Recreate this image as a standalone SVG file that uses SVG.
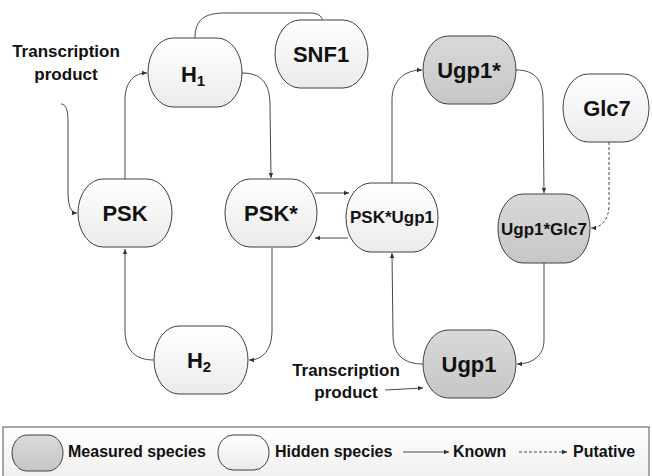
<svg xmlns="http://www.w3.org/2000/svg" width="652" height="476" viewBox="0 0 652 476">
<defs>
<linearGradient id="gHid" x1="0" y1="0" x2="0" y2="1"><stop offset="0" stop-color="#ffffff"/><stop offset="1" stop-color="#ebebeb"/></linearGradient>
<linearGradient id="gMeas" x1="0" y1="0" x2="0" y2="1"><stop offset="0" stop-color="#d9d9d9"/><stop offset="1" stop-color="#c6c6c6"/></linearGradient>
<linearGradient id="gBox" x1="0" y1="0" x2="0" y2="1"><stop offset="0" stop-color="#ffffff"/><stop offset="1" stop-color="#ededed"/></linearGradient>
<marker id="arr" markerUnits="userSpaceOnUse" markerWidth="6" markerHeight="6" refX="5" refY="3" orient="auto"><path d="M0,0.8 L5,3 L0,5.2 z" fill="#333"/></marker>
</defs>
<style>
.hid{fill:url(#gHid);stroke:#404040;stroke-width:1}
.meas{fill:url(#gMeas);stroke:#404040;stroke-width:1}
.lbl{font-family:"Liberation Sans",Arial,sans-serif;font-weight:bold;fill:#111;text-anchor:middle}
.big{font-size:22px}
.mid{font-size:17px}
.sub{font-size:15px}
.txt{font-family:"Liberation Sans",Arial,sans-serif;font-weight:bold;fill:#111;font-size:16px}
.tp{font-size:17px;text-anchor:middle}
.c{fill:none;stroke:#333;stroke-width:0.9}
.a{marker-end:url(#arr)}
.d{stroke-dasharray:3,2}
</style>

<g id="connectors">
<path class="c a" d="M61,104 C66,104 68,110 68,122 L68,192 C68,206 71,213 77,213"/>
<path class="c a" d="M125,179 L125,100 C125,82 134,73 147,73"/>
<path class="c a" d="M242,73 C262,73 270,84 270,105 L271,178"/>
<path class="c" d="M195,38 C195,20 204,13 225,13 L310,13 C318,13 322,16 322,20"/>
<path class="c a" d="M154,360 C135,360 125,350 125,330 L125,249"/>
<path class="c a" d="M272,248 L272,330 C272,350 263,360 249,360"/>
<path class="c a" d="M315,193 L349,193"/>
<path class="c a" d="M348,238 L315,238"/>
<path class="c a" d="M392,183 L392,100 C392,81 404,70 422,70"/>
<path class="c a" d="M516,70 C535,70 543,80 543,100 L544,193"/>
<path class="c a d" d="M609,142 L609,205 C609,220 601,228 591,228"/>
<path class="c a" d="M544,263 L544,340 C544,356 532,364 517,364"/>
<path class="c a" d="M423,364 C404,364 393,355 393,335 L392,253"/>
<path class="c a" d="M385,390 L423,388"/>
</g>

<g id="H1"><rect class="hid" x="148" y="38" width="94" height="69" rx="25" ry="34"/><text class="lbl big" x="193" y="82">H<tspan class="sub" dy="4">1</tspan></text></g>
<g id="SNF1"><rect class="hid" x="275" y="20" width="93" height="68" rx="25" ry="34"/><text class="lbl big" x="321" y="62">SNF1</text></g>
<g id="PSK"><rect class="hid" x="78" y="179" width="94" height="68" rx="25" ry="34"/><text class="lbl big" x="125" y="221">PSK</text></g>
<g id="PSKstar"><rect class="hid" x="225" y="179" width="92" height="68" rx="25" ry="34"/><text class="lbl big" x="271" y="221">PSK*</text></g>
<g id="PSKstarUgp1"><rect class="hid" x="346" y="183" width="92" height="69" rx="25" ry="34"/><text class="lbl mid" x="392" y="223">PSK*Ugp1</text></g>
<g id="Ugp1star"><rect class="meas" x="423" y="36" width="93" height="68" rx="25" ry="34"/><text class="lbl big" x="469" y="78">Ugp1*</text></g>
<g id="Glc7"><rect class="hid" x="563" y="74" width="86" height="68" rx="25" ry="34"/><text class="lbl big" x="607" y="116">Glc7</text></g>
<g id="Ugp1starGlc7"><rect class="meas" x="498" y="194" width="92" height="69" rx="25" ry="34"/><text class="lbl mid" x="544" y="235">Ugp1*Glc7</text></g>
<g id="H2"><rect class="hid" x="154" y="326" width="94" height="68" rx="25" ry="34"/><text class="lbl big" x="199" y="368">H<tspan class="sub" dy="4">2</tspan></text></g>
<g id="Ugp1"><rect class="meas" x="423" y="330" width="93" height="68" rx="25" ry="34"/><text class="lbl big" x="469" y="372">Ugp1</text></g>

<g id="labels">
<text class="txt tp" x="66" y="57">Transcription</text>
<text class="txt tp" x="66" y="80">product</text>
<text class="txt tp" x="346" y="376">Transcription</text>
<text class="txt tp" x="346" y="398">product</text>
</g>

<g id="legend">
<rect x="3" y="427" width="646" height="60" fill="url(#gBox)" stroke="#555" stroke-width="1"/>
<rect class="meas" x="12" y="435" width="51" height="36" rx="15" ry="18"/>
<text class="txt" x="68" y="457">Measured species</text>
<rect class="hid" x="218" y="435" width="51" height="35" rx="15" ry="17.5"/>
<text class="txt" x="275" y="457">Hidden species</text>
<path class="c a" d="M403,452 L449,452"/>
<text class="txt" x="453" y="457">Known</text>
<path class="c a d" d="M519,452 L567,452"/>
<text class="txt" x="573" y="457">Putative</text>
</g>
</svg>
